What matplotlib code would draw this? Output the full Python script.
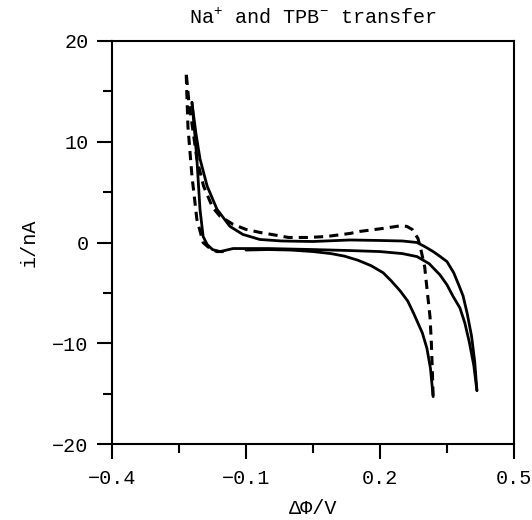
import numpy as np
import matplotlib
matplotlib.use("Agg")
import matplotlib.pyplot as plt

# ---- data ----
# solid loop A : upper branch (left spike -> right tip)
a_up_x = [-0.221, -0.217, -0.212, -0.203, -0.187, -0.165, -0.136, -0.107, -0.069, -0.02, 0.05, 0.133, 0.20, 0.25, 0.283, 0.30, 0.319, 0.335, 0.35, 0.365, 0.378, 0.386, 0.395, 0.405, 0.412, 0.417]
a_up_y = [13.9, 12.5, 10.8, 8.3, 5.6, 3.3, 1.6, 0.8, 0.3, 0.15, 0.1, 0.25, 0.2, 0.15, 0.0, -0.4, -0.9, -1.4, -1.9, -3.0, -4.4, -5.3, -7.0, -9.3, -11.8, -14.7]
# solid loop A : lower branch (right tip -> left spike)
a_lo_x = [0.417, 0.41, 0.40, 0.39, 0.379, 0.363, 0.35, 0.334, 0.31, 0.283, 0.25, 0.20, 0.133, 0.05, -0.05, -0.129, -0.158, -0.175, -0.187, -0.196, -0.203, -0.21, -0.216, -0.221]
a_lo_y = [-14.7, -12.2, -9.9, -8.0, -6.5, -5.3, -4.2, -3.2, -2.1, -1.4, -1.1, -0.9, -0.8, -0.7, -0.6, -0.6, -0.9, -0.7, -0.2, 0.6, 3.3, 8.3, 11.5, 13.9]
# solid curve B : lower branch ending at the second tip
b_x = [-0.10, -0.05, 0.0, 0.05, 0.09, 0.12, 0.15, 0.18, 0.207, 0.225, 0.245, 0.262, 0.275, 0.285, 0.295, 0.305, 0.313, 0.319]
b_y = [-0.75, -0.7, -0.75, -0.9, -1.1, -1.35, -1.75, -2.3, -3.0, -3.8, -4.8, -5.8, -7.0, -8.0, -9.0, -10.5, -12.5, -15.3]
# dashed curve C : lower plateau -> left outer edge -> spike -> upper path -> tip
c_x = [-0.150, -0.165, -0.176, -0.186, -0.196, -0.210, -0.221, -0.230, -0.234, -0.228, -0.220, -0.210, -0.195, -0.175, -0.158, -0.129, -0.10, -0.069, -0.03, -0.005, 0.04, 0.081, 0.133, 0.155, 0.207, 0.245, 0.26, 0.272, 0.285, 0.292, 0.30, 0.305, 0.312, 0.315, 0.317, 0.319]
c_y = [-0.9, -0.9, -0.7, -0.4, 0.0, 2.3, 6.6, 11.5, 16.9, 14.0, 11.5, 8.3, 5.6, 3.5, 2.6, 1.8, 1.3, 1.0, 0.7, 0.5, 0.5, 0.6, 0.9, 1.1, 1.4, 1.65, 1.6, 1.3, 0.4, -0.8, -2.4, -4.5, -7.4, -10.0, -12.5, -15.3]

x_major = [-0.4, -0.1, 0.2, 0.5]
x_major_labels = ["\u22120.4", "\u22120.1", "0.2", "0.5"]
x_minor = [-0.25, 0.05, 0.35]
y_major = [-20, -10, 0, 10, 20]
y_major_labels = ["\u221220", "\u221210", "0", "10", "20"]
y_minor = [-15, -5, 5, 15]

title = "Na$^{+}$ and TPB$^{-}$ transfer"
xlabel = "\u0394\u03a6/V"
ylabel = "i/nA"

# ---- style ----
plt.rcParams['font.family'] = ['Liberation Mono', 'DejaVu Sans']
plt.rcParams['mathtext.fontset'] = 'custom'
plt.rcParams['mathtext.rm'] = 'Liberation Mono'
plt.rcParams['mathtext.it'] = 'Liberation Mono'
plt.rcParams['mathtext.bf'] = 'Liberation Mono:bold'
plt.rcParams['mathtext.default'] = 'rm'

fig = plt.figure(figsize=(5.32, 5.20), dpi=100)
ax = fig.add_axes([112/532, (520-444)/520, (514-112)/532, (444-41)/520])

lw = 2.0
ax.plot(a_up_x, a_up_y, color='black', lw=lw, solid_capstyle='round', solid_joinstyle='round')
ax.plot(a_lo_x, a_lo_y, color='black', lw=lw, solid_capstyle='round', solid_joinstyle='round')
ax.plot(b_x, b_y, color='black', lw=lw, solid_capstyle='round', solid_joinstyle='round')
ax.plot(c_x, c_y, color='black', lw=2.2, linestyle=(0, (3.0, 2.0)))

ax.set_xlim(-0.4, 0.5)
ax.set_ylim(-20, 20)
ax.set_xticks(x_major)
ax.set_xticklabels(x_major_labels)
ax.set_xticks(x_minor, minor=True)
ax.set_yticks(y_major)
ax.set_yticklabels(y_major_labels)
ax.set_yticks(y_minor, minor=True)

fs = 14.5
ax.tick_params(axis='both', which='major', direction='out', length=11, width=1.5, labelsize=fs, pad=6)
ax.tick_params(axis='both', which='minor', direction='out', length=6.5, width=1.5)
ax.tick_params(axis='x', which='major', pad=7)
for s in ax.spines.values():
    s.set_linewidth(1.5)

ax.set_title(title, fontsize=fs, pad=12)
ax.set_xlabel(xlabel, fontsize=fs, labelpad=8)
ax.set_ylabel(ylabel, fontsize=fs, labelpad=10)

fig.savefig("out.png", dpi=100)
